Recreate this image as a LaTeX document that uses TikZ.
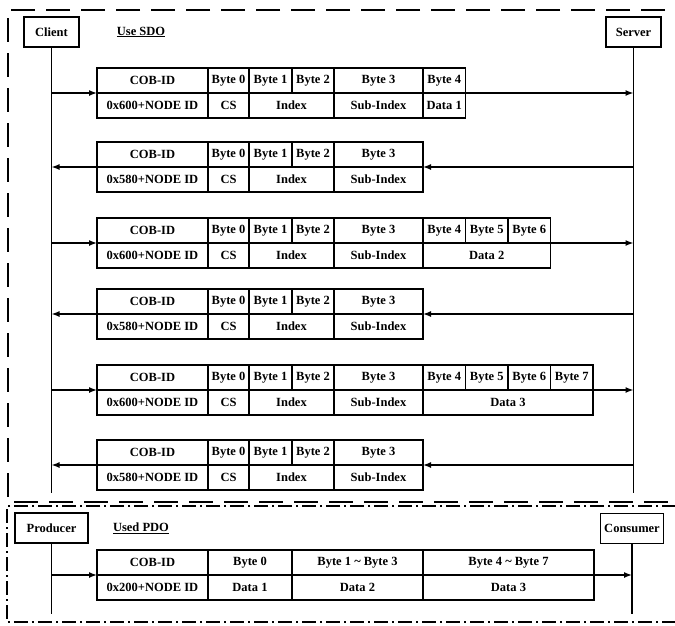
\documentclass[tikz,border=0pt]{standalone}
\usepackage{fontspec}
\setmainfont{Liberation Serif}
\usetikzlibrary{arrows.meta,positioning}

\tikzset{
  cell/.style={draw, line width=1.9pt, anchor=north west, minimum height=25pt, inner sep=0pt, outer sep=0pt},
  actor/.style={draw, line width=1.9pt, minimum height=30pt, inner sep=2pt},
  life/.style={line width=1.9pt},
  msg/.style={line width=1.4pt, -{Latex[length=8pt,width=6pt]}},
  sdoframe/.style={line width=1.5pt, dash pattern=on 24pt off 11pt},
  pdoframe/.style={line width=1.5pt, dash pattern=on 14pt off 4pt on 2pt off 4pt},
}

\begin{document}
\begin{tikzpicture}[x=1pt, y=-1pt, font=\fontsize{12.5}{14}\selectfont\bfseries]
\useasboundingbox (0,0) rectangle (675,625);
\clip (0,0) rectangle (675,625);

% SDO part
\draw[sdoframe] (700,10) -- (8,10) -- (8,502) -- (700,502);
\node[actor, minimum width=55pt] (client) at (51.5,32) {Client};
\node[actor, minimum width=55pt] (server) at (633.5,32) {Server};
\node (sdo) at (141,32) {\underline{Use SDO}};
\coordinate (clientend) at (client |- 0,493);
\coordinate (serverend) at (server |- 0,493);
\draw[life] (client.south) -- (clientend);
\draw[life] (server.south) -- (serverend);

% common cells of the six frames
\foreach \m/\y/\id in {1/68/600, 2/142/580, 3/218/600, 4/289/580, 5/365/600, 6/440/580} {
  \foreach \n/\x/\w/\txt in {a/97/111/COB-ID, b/208/41/Byte 0, c/249/43/Byte 1, d/292/42/Byte 2, e/334/89/Byte 3}
    \node[cell, minimum width=\w] (h\m-\n) at (\x,\y) {\txt};
  \foreach \n/\x/\w/\txt in {a/97/111/0x\id+NODE ID, b/208/41/CS, c/249/85/Index, d/334/89/Sub-Index}
    \node[cell, minimum width=\w] (b\m-\n) at (\x,\y+25) {\txt};
}

% requests: client -> server
\foreach \m/\y/\last/\dat in {1/68/4/Data 1, 3/218/6/Data 2, 5/365/7/Data 3} {
  \foreach \k in {4,...,\last}
    \node[cell, minimum width=42.5] (h\m-\k) at ({423+(\k-4)*42.5},\y) {Byte \k};
  \node[cell, minimum width={(\last-3)*42.5}] (b\m-e) at (423,\y+25) {\dat};
  \draw[msg] (client |- h\m-a.south west) -- (h\m-a.south west);
  \draw[msg] (b\m-e.north east) -- (server |- b\m-e.north east);
}

% responses: server -> client
\foreach \m in {2,4,6} {
  \draw[msg] (server |- h\m-e.south east) -- (h\m-e.south east);
  \draw[msg] (h\m-a.south west) -- (client |- h\m-a.south west);
}

% PDO part
\draw[pdoframe] (700,506) -- (7,506) -- (7,622) -- (700,622);
\node[actor, minimum width=73pt] (producer) at (51.5,528) {Producer};
\node[actor, minimum width=63pt] (consumer) at (632,528.5) {Consumer};
\node (pdo) at (141,528) {\underline{Used PDO}};
\coordinate (producerend) at (producer |- 0,614);
\coordinate (consumerend) at (consumer |- 0,614);
\draw[life] (producer.south) -- (producerend);
\draw[life] (consumer.south) -- (consumerend);

\foreach \n/\x/\w/\txt in {a/97/111/COB-ID, b/208/84/Byte 0, c/292/131/Byte 1 \textasciitilde{} Byte 3, d/423/171/Byte 4 \textasciitilde{} Byte 7}
  \node[cell, minimum width=\w] (h7-\n) at (\x,550) {\txt};
\foreach \n/\x/\w/\txt in {a/97/111/0x200+NODE ID, b/208/84/Data 1, c/292/131/Data 2, d/423/171/Data 3}
  \node[cell, minimum width=\w] (b7-\n) at (\x,575) {\txt};
\draw[msg] (producer |- b7-a.north west) -- (b7-a.north west);
\draw[msg] (b7-d.north east) -- (consumer |- b7-d.north east);
\end{tikzpicture}
\end{document}
